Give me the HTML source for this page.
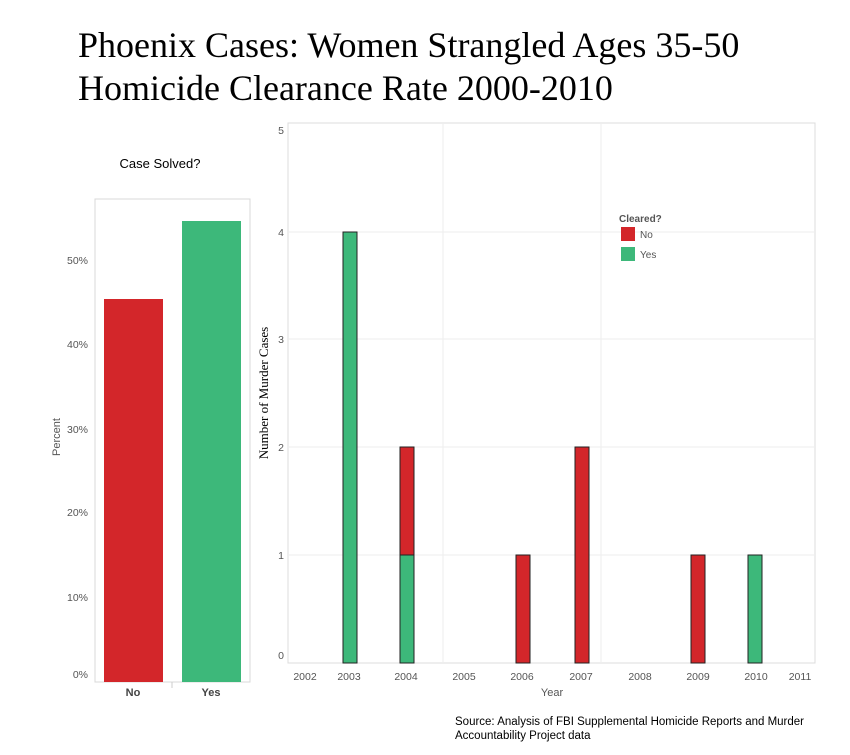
<!DOCTYPE html>
<html><head><meta charset="utf-8"><style>
body{margin:0;background:#fff;width:850px;height:750px;overflow:hidden;}
</style></head><body>
<svg width="850" height="750" xmlns="http://www.w3.org/2000/svg" font-family="Liberation Sans, sans-serif">
<rect width="850" height="750" fill="#fff"/>
<text x="78" y="57" font-family="Liberation Serif, serif" font-size="36" fill="#000">Phoenix Cases: Women Strangled Ages 35-50</text>
<text x="78" y="100" font-family="Liberation Serif, serif" font-size="36" fill="#000">Homicide Clearance Rate 2000-2010</text>

<!-- Left chart -->
<text x="160" y="168" font-size="13" text-anchor="middle" fill="#000">Case Solved?</text>
<rect x="95" y="199" width="155" height="483" fill="none" stroke="#d8d8d8"/>
<rect x="104" y="299" width="59" height="383" fill="#d3262a"/>
<rect x="182" y="221" width="59" height="461" fill="#3db87a"/>
<g font-size="10.5" fill="#555" text-anchor="end">
<text x="88" y="678">0%</text>
<text x="88" y="601">10%</text>
<text x="88" y="516">20%</text>
<text x="88" y="433">30%</text>
<text x="88" y="348">40%</text>
<text x="88" y="264">50%</text>
</g>
<text transform="translate(60,437) rotate(-90)" font-size="11" fill="#555" text-anchor="middle">Percent</text>
<line x1="172" y1="682" x2="172" y2="688" stroke="#ccc"/>
<text x="133" y="696" font-size="11" font-weight="bold" fill="#444" text-anchor="middle">No</text>
<text x="211" y="696" font-size="11" font-weight="bold" fill="#444" text-anchor="middle">Yes</text>

<!-- Right chart -->
<rect x="288" y="123" width="527" height="540" fill="none" stroke="#dcdcdc"/>
<g stroke="#eeeeee">
<line x1="288" y1="555" x2="815" y2="555"/>
<line x1="288" y1="447" x2="815" y2="447"/>
<line x1="288" y1="339" x2="815" y2="339"/>
<line x1="288" y1="232" x2="815" y2="232"/>
<line x1="443" y1="123" x2="443" y2="663"/>
<line x1="601" y1="123" x2="601" y2="663"/>
</g>
<g font-size="10.5" fill="#555" text-anchor="middle">
<text x="281" y="659">0</text>
<text x="281" y="559">1</text>
<text x="281" y="451">2</text>
<text x="281" y="343">3</text>
<text x="281" y="236">4</text>
<text x="281" y="134">5</text>
</g>
<text transform="translate(268,393) rotate(-90)" font-family="Liberation Serif, serif" font-size="13" fill="#000" text-anchor="middle">Number of Murder Cases</text>
<g stroke="#222" stroke-width="1">
<rect x="343" y="232" width="14" height="431" fill="#3db87a"/>
<rect x="400" y="555" width="14" height="108" fill="#3db87a"/>
<rect x="400" y="447" width="14" height="108" fill="#d3262a"/>
<rect x="516" y="555" width="14" height="108" fill="#d3262a"/>
<rect x="575" y="447" width="14" height="216" fill="#d3262a"/>
<rect x="691" y="555" width="14" height="108" fill="#d3262a"/>
<rect x="748" y="555" width="14" height="108" fill="#3db87a"/>
</g>
<g font-size="10.5" fill="#555" text-anchor="middle">
<text x="305" y="680">2002</text>
<text x="349" y="680">2003</text>
<text x="406" y="680">2004</text>
<text x="464" y="680">2005</text>
<text x="522" y="680">2006</text>
<text x="581" y="680">2007</text>
<text x="640" y="680">2008</text>
<text x="698" y="680">2009</text>
<text x="756" y="680">2010</text>
<text x="800" y="680">2011</text>
</g>
<text x="552" y="696" font-size="11" fill="#555" text-anchor="middle">Year</text>

<text x="619" y="222" font-size="10" font-weight="bold" fill="#555">Cleared?</text>
<rect x="621" y="227" width="14" height="14" fill="#d3262a"/>
<text x="640" y="238" font-size="10" fill="#555">No</text>
<rect x="621" y="247" width="14" height="14" fill="#3db87a"/>
<text x="640" y="258" font-size="10" fill="#555">Yes</text>

<text x="455" y="725" font-size="11.5" fill="#000">Source: Analysis of FBI Supplemental Homicide Reports and Murder</text>
<text x="455" y="739" font-size="11.5" fill="#000">Accountability Project data</text>
</svg>
</body></html>
